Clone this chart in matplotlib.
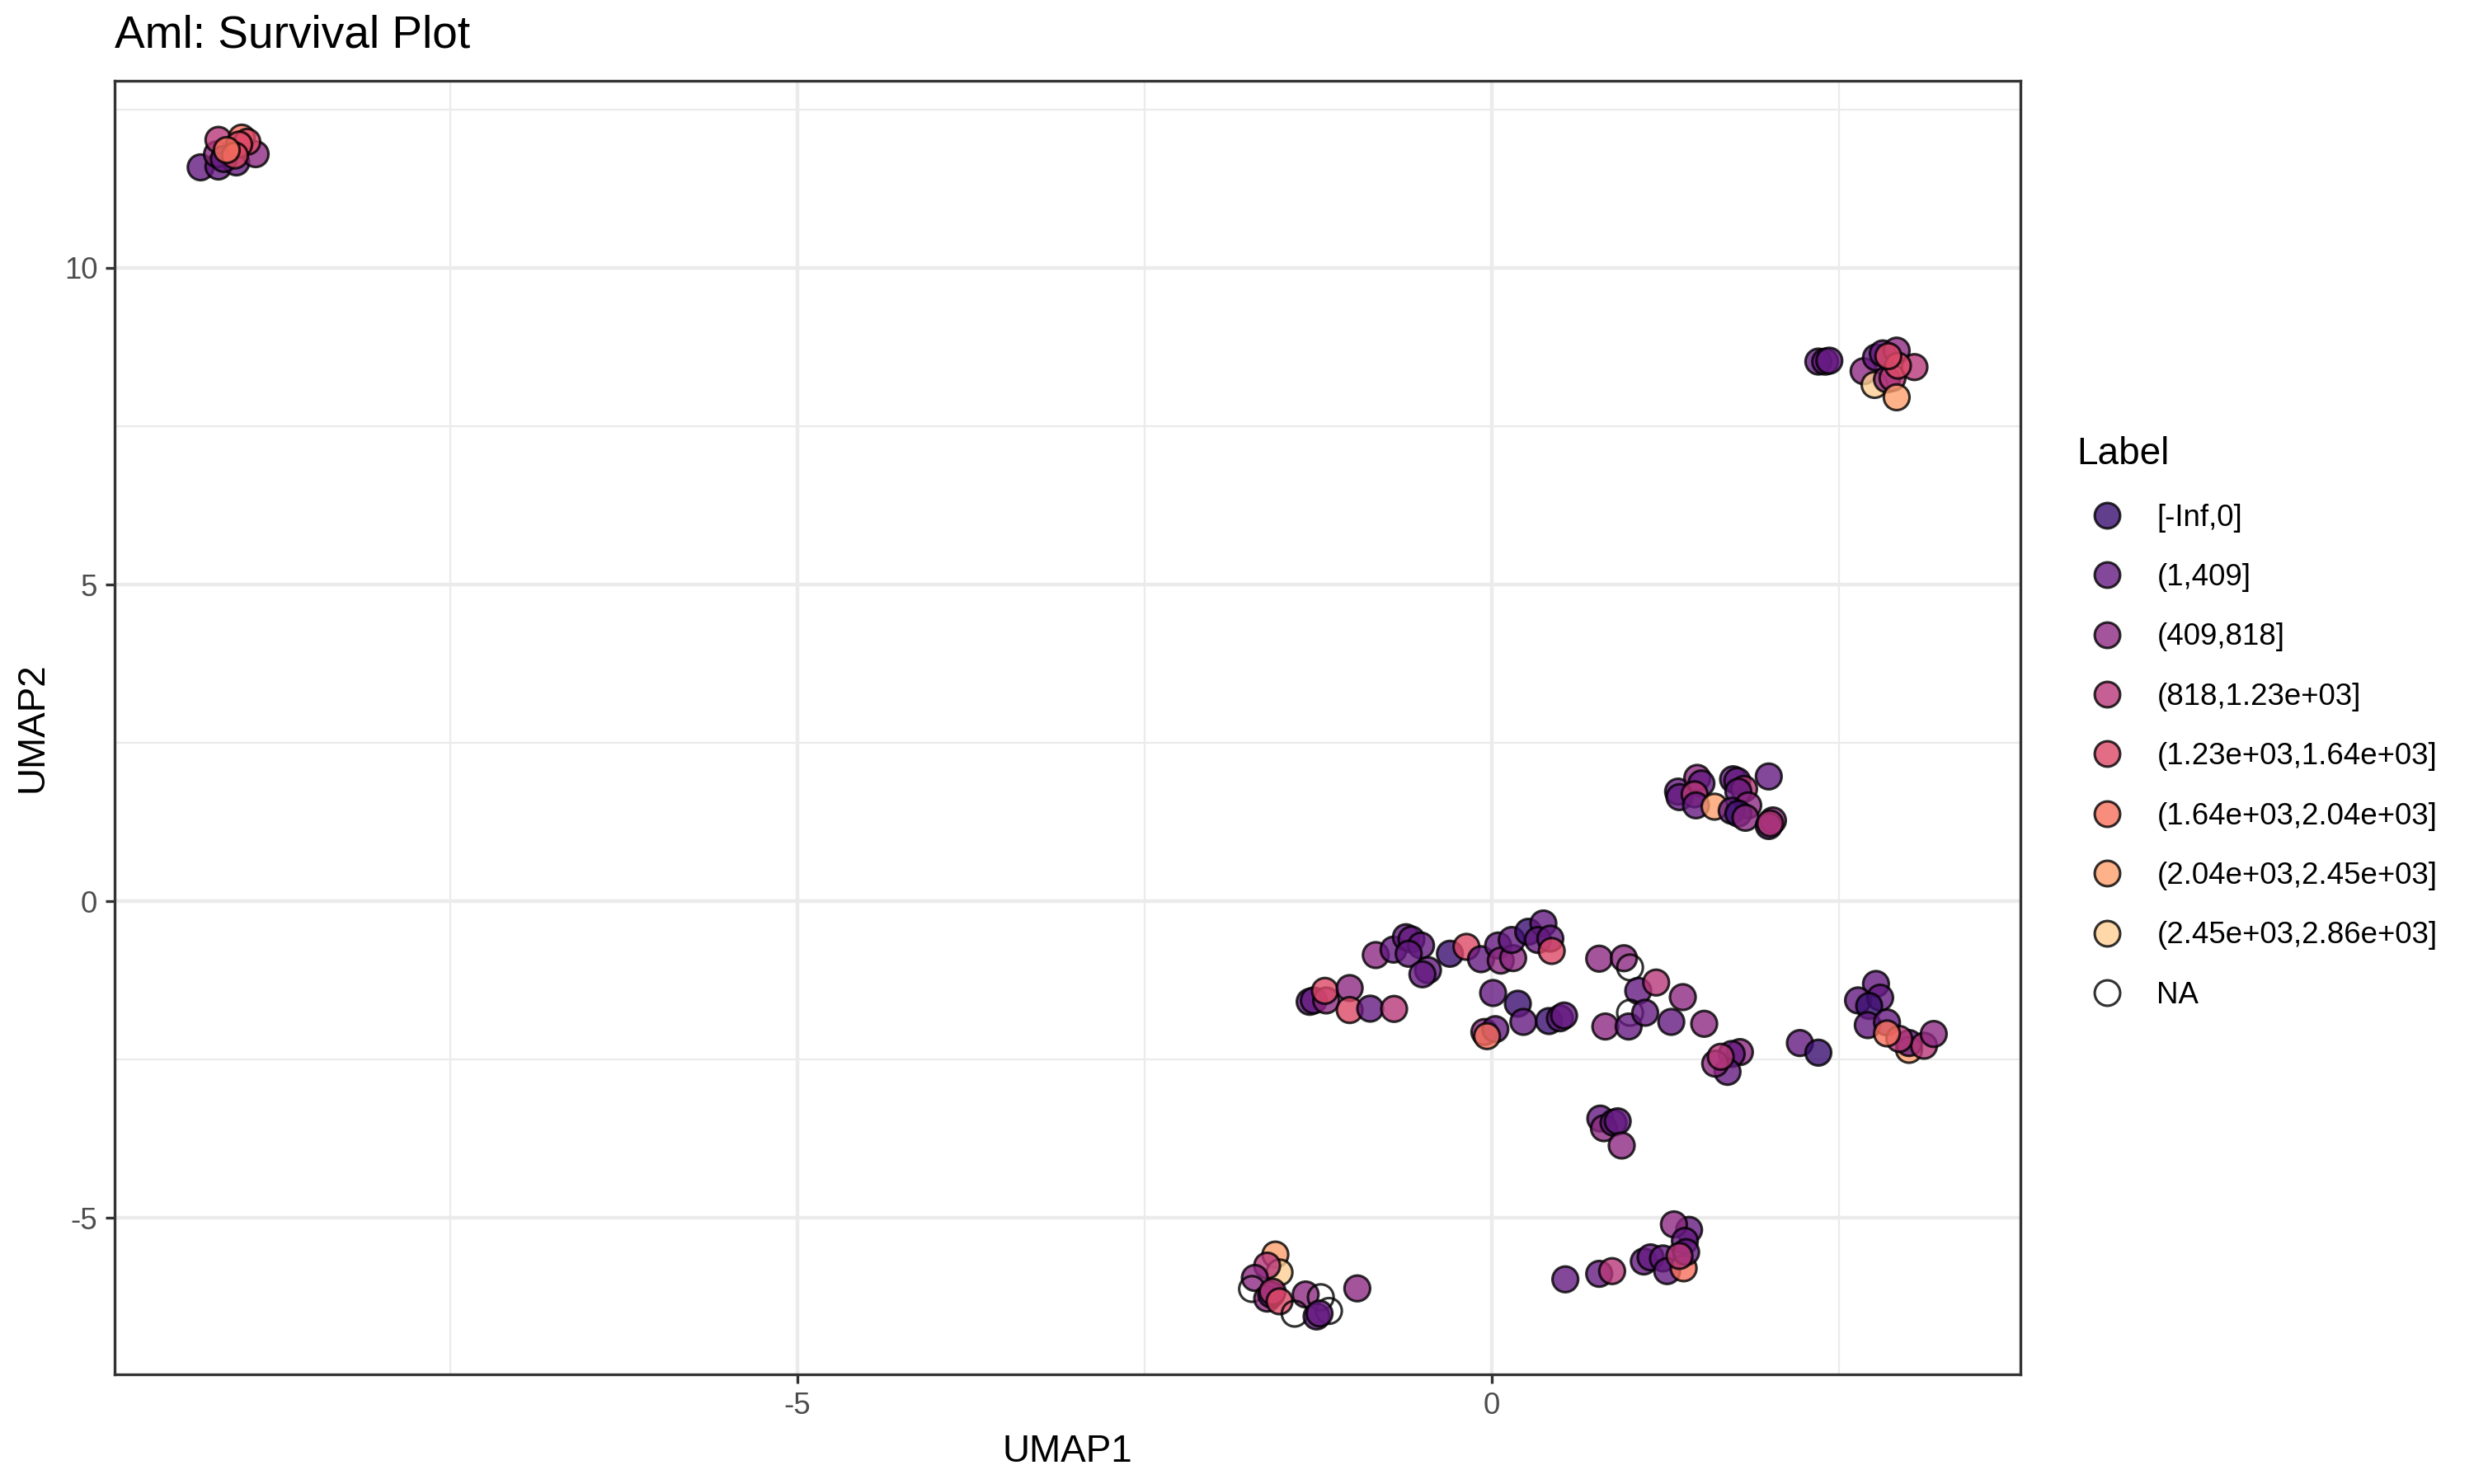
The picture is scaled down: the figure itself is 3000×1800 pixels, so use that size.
import numpy as np
import matplotlib
matplotlib.use('Agg')
import matplotlib.pyplot as plt
from matplotlib.lines import Line2D

plt.rcParams['font.family'] = ['Liberation Sans', 'DejaVu Sans']
plt.rcParams['axes.unicode_minus'] = False

# survival time bins (legend order)
levels = ['[-Inf,0]', '(1,409]', '(409,818]', '(818,1.23e+03]',
          '(1.23e+03,1.64e+03]', '(1.64e+03,2.04e+03]',
          '(2.04e+03,2.45e+03]', '(2.45e+03,2.86e+03]', 'NA']

# umap coordinates, grouped by cluster
# label is the index into levels
tl_x = [-9.297, -9.169, -9.179, -9.169, -9.040, -8.901, -9.13, -9.001, -8.961, -9.020, -9.050, -9.109]
tl_y = [11.588, 11.601, 11.796, 12.022, 11.666, 11.796, 11.72, 12.057, 11.992, 11.948, 11.775, 11.861]
tl_l = [1, 1, 2, 3, 1, 2, 1, 5, 4, 4, 4, 5]

tr_x = [2.352, 2.401, 2.431, 2.678, 2.757, 2.767, 2.816, 2.916, 2.846, 2.886, 3.044, 2.925, 2.916, 2.856]
tr_y = [8.521, 8.520, 8.535, 8.369, 8.152, 8.586, 8.650, 8.694, 8.240, 8.261, 8.434, 8.456, 7.957, 8.607]
tr_l = [1, 1, 1, 2, 7, 1, 1, 2, 2, 3, 3, 4, 6, 4]

mr_x = [1.342, 1.352, 1.480, 1.510, 1.461, 1.471, 1.605, 1.738, 1.768, 1.817,
        1.776, 1.847, 1.728, 1.776, 1.827, 1.995, 2.025, 1.995, 2.005]
mr_y = [1.731, 1.644, 1.948, 1.860, 1.688, 1.514, 1.493, 1.926, 1.900, 1.774,
        1.731, 1.514, 1.428, 1.384, 1.318, 1.970, 1.276, 1.188, 1.230]
mr_l = [1, 1, 2, 1, 3, 1, 6, 1, 1, 3, 1, 2, 1, 0, 2, 1, 2, 1, 3]

mc_x = [-1.311, -1.281, -1.192, -1.201, -1.023, -1.023, -0.875, -0.703,
        -0.835, -0.707, -0.618, -0.578, -0.509, -0.598, -0.459, -0.499, -0.301, -0.182,
        -0.077, 0.046, 0.065, 0.154, 0.144, 0.263, 0.372, 0.333, 0.422, 0.432,
        0.010, 0.188, 0.228, 0.412, 0.491, 0.521, -0.053, 0.026, -0.034,
        0.774, 0.952, 0.996, 1.055, 0.996, 0.818, 0.986, 1.184, 1.376, 1.105, 1.293, 1.530,
        1.787, 1.728, 1.698, 1.609, 1.649, 2.219, 2.352,
        2.767, 2.638, 2.797, 2.718, 2.708, 2.846, 3.005, 3.005, 3.113, 3.183, 2.935, 2.846,
        0.782, 0.808, 0.877, 0.907, 0.936]
mc_y = [-1.588, -1.566, -1.566, -1.415, -1.371, -1.718, -1.696, -1.700,
        -0.850, -0.764, -0.568, -0.603, -0.699, -0.829, -1.089, -1.154, -0.829, -0.720,
        -0.915, -0.699, -0.937, -0.898, -0.612, -0.482, -0.351, -0.612, -0.590, -0.785,
        -1.449, -1.618, -1.905, -1.892, -1.848, -1.805, -2.065, -2.020, -2.130,
        -0.907, -0.900, -1.045, -1.415, -1.761, -1.978, -1.978, -1.284, -1.514, -1.761, -1.905, -1.935,
        -2.382, -2.412, -2.694, -2.564, -2.456, -2.239, -2.391,
        -1.306, -1.566, -1.523, -1.653, -1.956, -1.913, -2.347, -2.239, -2.282, -2.096, -2.174, -2.087,
        -3.432, -3.584, -3.497, -3.475, -3.857]
mc_l = [1, 1, 2, 4, 2, 4, 1, 3,
        2, 1, 1, 1, 1, 1, 1, 1, 0, 4,
        1, 1, 2, 2, 1, 0, 1, 1, 1, 4,
        1, 0, 1, 0, 1, 1, 2, 1, 5,
        2, 2, 8, 1, 8, 2, 1, 3, 2, 1, 1, 2,
        2, 1, 1, 2, 3, 1, 0,
        1, 1, 1, 0, 1, 1, 6, 1, 3, 2, 3, 5,
        1, 2, 1, 1, 2]

bl_x = [-1.558, -1.528, -1.617, -1.706, -1.726, -1.617, -1.588, -1.578, -1.528,
        -1.340, -1.231, -1.419, -1.172, -1.261, -1.240, -0.968]
bl_y = [-5.579, -5.861, -5.753, -5.948, -6.122, -6.274, -6.210, -6.165, -6.317,
        -6.209, -6.252, -6.512, -6.469, -6.556, -6.510, -6.113]
bl_l = [6, 7, 3, 2, 8, 2, 1, 3, 4, 2, 8, 8, 8, 1, 1, 2]

br_x = [0.530, 0.774, 0.867, 1.095, 1.144, 1.233, 1.263, 1.382, 1.421, 1.312, 1.391, 1.400, 1.352]
br_y = [-5.970, -5.883, -5.840, -5.688, -5.623, -5.640, -5.840, -5.796, -5.189, -5.102, -5.363, -5.540, -5.601]
br_l = [1, 1, 3, 1, 1, 1, 1, 5, 1, 2, 1, 1, 3]

umap1 = np.array(tl_x + tr_x + mr_x + mc_x + bl_x + br_x)
umap2 = np.array(tl_y + tr_y + mr_y + mc_y + bl_y + br_y)
label = np.array(tl_l + tr_l + mr_l + mc_l + bl_l + br_l)

# magma palette like scale_fill_viridis_d(option = "magma"), NA is empty
pal = [plt.cm.magma(v) for v in np.linspace(0.2, 0.9, 8)]
pal.append((1, 1, 1, 0))
alpha = 0.8

fig = plt.figure(figsize=(10, 6), dpi=300)
ax = fig.add_axes([0.0463, 0.0739, 0.7703, 0.8719])

face = []
for l in label:
    c = pal[l]
    face.append((c[0], c[1], c[2], 0.0 if l == 8 else alpha))
ax.scatter(umap1, umap2, s=56, c=face, edgecolors=(0, 0, 0, alpha),
           linewidths=0.75, zorder=3)

ax.set_xlim(-9.917, 3.806)
ax.set_ylim(-7.47, 12.96)

# theme_bw look
ax.set_xticks([-5, 0])
ax.set_yticks([-5, 0, 5, 10])
ax.set_xticks([-7.5, -2.5, 2.5], minor=True)
ax.set_yticks([-2.5, 2.5, 7.5, 12.5], minor=True)
ax.grid(True, which='major', color='#ebebeb', linewidth=1.07, zorder=0)
ax.grid(True, which='minor', color='#ebebeb', linewidth=0.53, zorder=0)
ax.set_axisbelow(True)
ax.tick_params(which='minor', length=0)
ax.tick_params(which='major', length=2.75, width=0.8, color='#333333',
               labelsize=8.8, labelcolor='#4d4d4d', pad=2.2)
for s in ax.spines.values():
    s.set_color('#333333')
    s.set_linewidth(0.8)

ax.set_xlabel('UMAP1', fontsize=11, labelpad=4)
ax.set_ylabel('UMAP2', fontsize=11, labelpad=4)
fig.text(0.0463, 0.976, 'Aml: Survival Plot', fontsize=13.2, ha='left', va='center')

# legend
handles = []
for i, lev in enumerate(levels):
    c = pal[i]
    fc = (1, 1, 1, 1) if i == 8 else (c[0], c[1], c[2], alpha)
    handles.append(Line2D([], [], linestyle='none', marker='o', markersize=7.4,
                          markerfacecolor=fc, markeredgecolor=(0, 0, 0, alpha),
                          markeredgewidth=0.75))
fig.legend(handles, levels, title='Label', loc='upper left',
           bbox_to_anchor=(0.8393, 0.706), frameon=False, fontsize=8.8,
           title_fontsize=11, handlelength=2.0, handletextpad=0.66,
           labelspacing=1.02, borderpad=0, borderaxespad=0, alignment='left')

plt.savefig('out.png', dpi=300)
